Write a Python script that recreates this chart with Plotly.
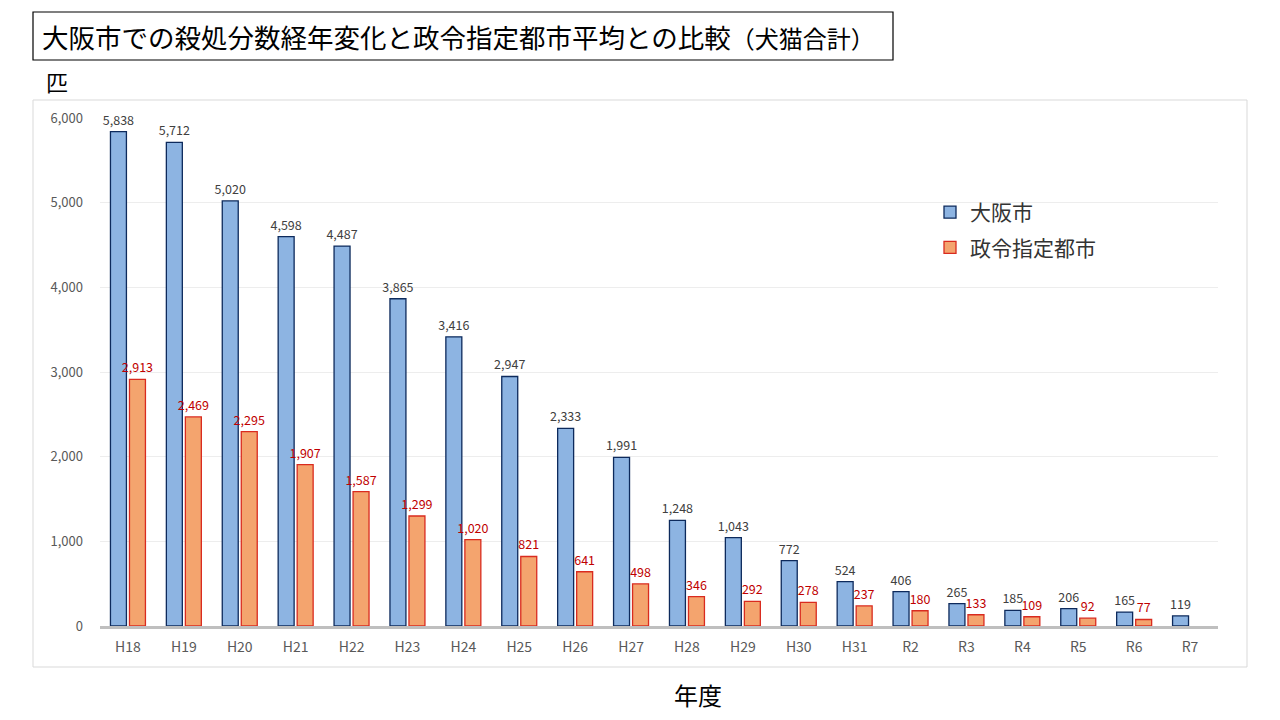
import plotly.graph_objects as go

# 年度ごとの殺処分数（犬猫合計）
years = ["H18", "H19", "H20", "H21", "H22", "H23", "H24", "H25", "H26", "H27",
         "H28", "H29", "H30", "H31", "R2", "R3", "R4", "R5", "R6", "R7"]
osaka = [5838, 5712, 5020, 4598, 4487, 3865, 3416, 2947, 2333, 1991,
         1248, 1043, 772, 524, 406, 265, 185, 206, 165, 119]
seirei = [2913, 2469, 2295, 1907, 1587, 1299, 1020, 821, 641, 498,
          346, 292, 278, 237, 180, 133, 109, 92, 77, None]

FONT = "Noto Sans CJK JP"
OFF = 8  # ページ余白の分
W, H = 1280 - OFF, 720 - OFF
L, R, T, B = 100 - OFF, 1218 - OFF, 118 - OFF, 626 - OFF


def px(x, y):
    # 画面ピクセル座標 -> paper座標
    x, y = x - OFF, y - OFF
    return (x - L) / (R - L), (B - y) / (B - T)


def fmt(v):
    return "" if v is None else f"{v:,}"


fig = go.Figure()
fig.add_trace(go.Bar(
    x=years, y=osaka, name="大阪市",
    marker=dict(color="#8DB4E2", line=dict(color="#0D2A5C", width=1.3)),
    text=[fmt(v) for v in osaka], textposition="outside", constraintext="none",
    textfont=dict(family=FONT, size=12.5, color="#404040"),
    cliponaxis=False, legendgroup="a",
))
fig.add_trace(go.Bar(
    x=years, y=seirei, name="政令指定都市",
    marker=dict(color="#F4A46E", line=dict(color="#D92B1F", width=1.3)),
    text=[fmt(v) for v in seirei], textposition="outside", constraintext="none",
    textfont=dict(family=FONT, size=12.5, color="#C00000"),
    cliponaxis=False, legendgroup="b",
))

shapes = []
x0, y0 = px(33, 100)
x1, y1 = px(1247, 667)
shapes.append(dict(type="rect", xref="paper", yref="paper", x0=x0, y0=y0, x1=x1, y1=y1,
                   line=dict(color="#D9D9D9", width=1), layer="below"))
x0, y0 = px(33, 12)
x1, y1 = px(893, 60)
shapes.append(dict(type="rect", xref="paper", yref="paper", x0=x0, y0=y0, x1=x1, y1=y1,
                   line=dict(color="#000000", width=1.2), fillcolor="white"))

annotations = []
tx, ty = px(40, 36)
annotations.append(dict(
    xref="paper", yref="paper", x=tx, y=ty, xanchor="left", yanchor="middle", showarrow=False,
    text="大阪市での殺処分数経年変化と政令指定都市平均との比較<span style='font-size:24px'>（犬猫合計）</span>",
    font=dict(family=FONT, size=26.5, color="#000000"),
))
ux, uy = px(44, 81)
annotations.append(dict(
    xref="paper", yref="paper", x=ux, y=uy, xanchor="left", yanchor="middle", showarrow=False,
    text="匹", font=dict(family=FONT, size=22, color="#000000"),
))
nx, ny = px(698, 694)
annotations.append(dict(
    xref="paper", yref="paper", x=nx, y=ny, xanchor="center", yanchor="middle", showarrow=False,
    text="年度", font=dict(family=FONT, size=24, color="#000000"),
))

lx, ly = px(930, 192)
fig.update_layout(
    width=W, height=H,
    margin=dict(l=L, r=W - R, t=T, b=H - B),
    paper_bgcolor="white", plot_bgcolor="white",
    barmode="group", bargap=0.32, bargroupgap=0.16,
    font=dict(family=FONT, color="#595959"),
    xaxis=dict(
        showgrid=False, showline=True, linecolor="#BFBFBF", linewidth=2.5,
        tickfont=dict(family=FONT, size=14, color="#595959"), ticks="",
        ticklabelstandoff=6,
    ),
    yaxis=dict(
        range=[0, 6000], dtick=1000, tickformat=",d",
        showgrid=True, gridcolor="#EDEDED", gridwidth=1, zeroline=False,
        showline=False, ticks="", ticklabelstandoff=16,
        tickfont=dict(family=FONT, size=13, color="#595959"),
    ),
    legend=dict(
        x=lx, y=ly, xanchor="left", yanchor="top",
        font=dict(family=FONT, size=21, color="#333333"),
        bgcolor="rgba(0,0,0,0)", tracegroupgap=5, traceorder="grouped",
    ),
    shapes=shapes, annotations=annotations,
)

fig.write_html("out.html")
